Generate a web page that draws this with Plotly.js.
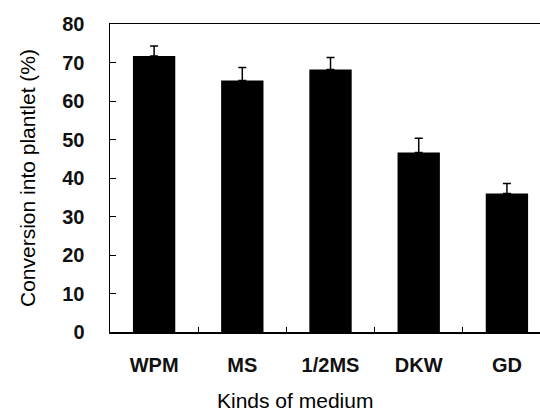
<!DOCTYPE html>
<html>
<head>
<meta charset="utf-8">
<script src="https://cdn.plot.ly/plotly-3.0.1.min.js"></script>
<style>html,body{margin:0;padding:0;background:#fff;}#chart{width:540px;height:412px;}</style>
</head>
<body>
<div id="chart"></div>
<script>
const categories = ["WPM", "MS", "1/2MS", "DKW", "GD"];
const conversion = [71.7, 65.3, 68.2, 46.6, 36.0];
const errors = [2.6, 3.4, 3.1, 3.7, 2.6];
const yTicks = [0, 10, 20, 30, 40, 50, 60, 70, 80];
const xTitle = "Kinds of medium";
const yTitle = "Conversion into plantlet (%)";

const tickFont = {family: "Liberation Sans, Arial, sans-serif", size: 20, color: "#111", weight: "bold"};
const titleFont = {family: "Liberation Sans, Arial, sans-serif", size: 21, color: "#000"};

const trace = {
  type: "bar",
  x: categories,
  y: conversion,
  width: 0.48,
  marker: {color: "#000", line: {width: 0}},
  error_y: {type: "data", symmetric: false, array: errors, arrayminus: errors.map(() => 0),
            color: "#000", thickness: 1.5, width: 4},
  hoverinfo: "none"
};

const layout = {
  width: 540, height: 412,
  margin: {l: 110, r: 0, t: 24, b: 80},
  paper_bgcolor: "#fff", plot_bgcolor: "#fff",
  font: titleFont,
  showlegend: false,
  xaxis: {
    type: "category",
    range: [-0.5, 4.375],
    showline: true, linecolor: "#000", linewidth: 1.5, mirror: true,
    ticks: "inside", tickson: "boundaries", ticklen: 5, tickcolor: "#000", tickwidth: 1,
    ticklabelstandoff: 14,
    tickfont: tickFont,
    showgrid: false, zeroline: false
  },
  yaxis: {
    range: [0, 80],
    tickvals: yTicks,
    showline: true, linecolor: "#000", linewidth: 1.5,
    ticks: "inside", ticklen: 6, tickcolor: "#000", tickwidth: 1,
    ticklabelstandoff: 20,
    tickfont: tickFont,
    showgrid: false, zeroline: false
  },
  annotations: [
    {text: xTitle, xref: "paper", yref: "paper", x: (295 - 110) / 430, y: -(400 - 332) / 308,
     xanchor: "center", yanchor: "middle", showarrow: false, font: titleFont},
    {text: yTitle, xref: "paper", yref: "paper", x: (27 - 110) / 430, y: 0.5, textangle: -90,
     xanchor: "center", yanchor: "middle", showarrow: false, font: titleFont}
  ]
};

Plotly.newPlot("chart", [trace], layout, {displayModeBar: false, staticPlot: true});
</script>
</body>
</html>
